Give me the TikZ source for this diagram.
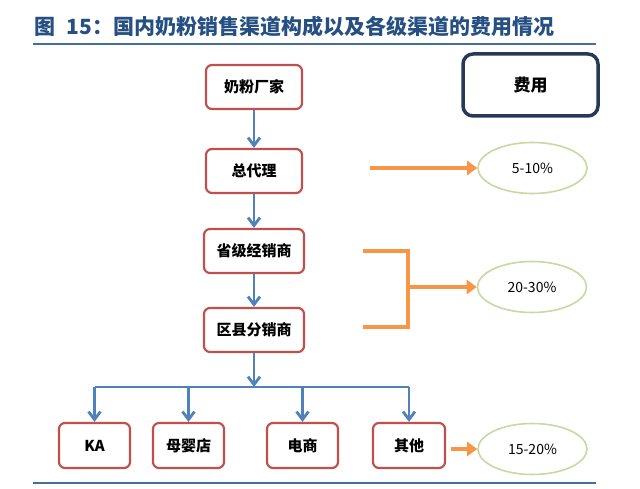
\documentclass[tikz,border=0pt]{standalone}
\usepackage{fontspec}
\setmainfont{Noto Sans CJK SC}
\usetikzlibrary{arrows.meta,shapes.geometric}
\definecolor{chanred}{RGB}{192,80,77}
\definecolor{flowblue}{RGB}{79,129,189}
\definecolor{feeorange}{RGB}{247,150,70}
\definecolor{costgreen}{RGB}{200,216,160}
\definecolor{headnavy}{RGB}{38,57,87}
\definecolor{titleblue}{RGB}{38,80,130}
\definecolor{ruleblue}{RGB}{70,110,155}

\begin{document}
\begin{tikzpicture}[x=1pt,y=-1pt,
        chan/.style={draw=chanred,line width=2.2pt,rounded corners=6pt,fill=white,
            minimum width=96pt,minimum height=44pt,inner sep=2pt,
            font=\bfseries\fontsize{15}{18}\selectfont},
        cost/.style={ellipse,draw=costgreen,line width=1.6pt,minimum width=109pt,
            minimum height=51pt,font=\fontsize{14}{17}\selectfont},
        flowline/.style={draw=flowblue,line width=2.8pt},
        flow/.style={flowline,-{Straight Barb[length=8pt,width=12pt]}},
        feeline/.style={draw=feeorange,line width=3.4pt},
        fee/.style={feeline,-{Triangle[length=10pt,width=14pt]}}]
    \useasboundingbox (0,0) rectangle (640,489);
    % title and rules
    \node[anchor=west,inner sep=0pt,text=titleblue,font=\bfseries\fontsize{21}{24}\selectfont] (title) at (34,27) {图\hspace{0.55em}15：国内奶粉销售渠道构成以及各级渠道的费用情况};
    \draw[ruleblue,line width=2.2pt] (33,44) -- (596,44);
    \draw[ruleblue,line width=2.2pt] (33,483) -- (596,483);
    % channel chain
    \node[chan] (maker) at (254,87) {奶粉厂家};
    \node[chan] (agent) at (254,171) {总代理};
    \node[chan,minimum width=100pt] (prov) at (254,251) {省级经销商};
    \node[chan,minimum width=100pt] (county) at (254,330) {区县分销商};
    \draw[flow] (maker) -- (agent);
    \draw[flow] (agent) -- (prov);
    \draw[flow] (prov) -- (county);
    % retail ends
    \node[chan,minimum width=71pt,minimum height=45pt] (ka) at (94.5,445.5) {KA};
    \node[chan,minimum width=71pt,minimum height=45pt] (baby) at (188.5,445.5) {母婴店};
    \node[chan,minimum width=71pt,minimum height=45pt] (online) at (302.5,445.5) {电商};
    \node[chan,minimum width=72pt,minimum height=45pt] (other) at (409,445.5) {其他};
    \coordinate (split) at (254,387);
    \draw[flow] (county) -- (split);
    \draw[flowline] (ka |- split) -- (other |- split);
    \draw[flow] (ka |- split) -- (ka);
    \draw[flow] (baby |- split) -- (baby);
    \draw[flow] (online |- split) -- (online);
    \draw[flow] (other |- split) -- (other);
    % costs
    \node[draw=headnavy,line width=3.5pt,rounded corners=10pt,minimum width=135pt,minimum height=62pt,font=\bfseries\fontsize{17}{20}\selectfont] (feehead) at (530.5,85) {费用};
    \node[cost] (c1) at (532.5,168) {5-10\%};
    \node[cost] (c2) at (532,287) {20-30\%};
    \node[cost] (c3) at (532.5,449) {15-20\%};
    \coordinate (from1) at (370,168);
    \draw[fee] (from1) -- (c1.west);
    \coordinate (brtop) at (363,251);
    \coordinate (brbot) at (363,327);
    \coordinate (brmid) at (408,287);
    \draw[feeline] (brtop) -- (brtop -| brmid) -- (brbot -| brmid) -- (brbot);
    \draw[fee] (brmid) -- (c2.west);
    \coordinate (from3) at ([xshift=5pt]other.east);
    \draw[fee] (from3 |- c3.west) -- (c3.west);
\end{tikzpicture}
\end{document}
